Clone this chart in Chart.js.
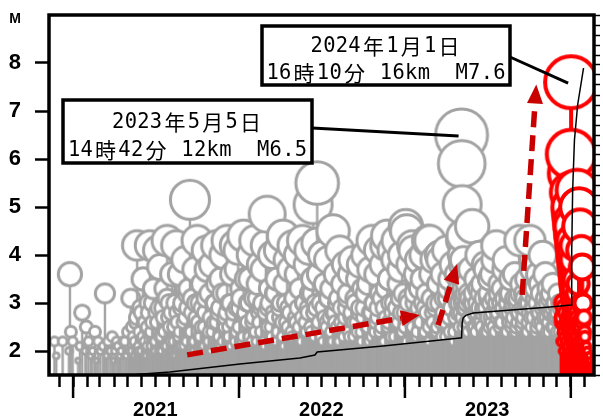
<!DOCTYPE html>
<html lang="ja">
<head>
<meta charset="utf-8">
<title>M-T図</title>
<script src="https://cdn.jsdelivr.net/npm/chart.js@4/dist/chart.umd.min.js"></script>
<style>
html, body { margin: 0; padding: 0; background: #fff; }
#wrap { width: 603px; height: 419px; }
</style>
</head>
<body>
<div id="wrap"><canvas id="mtChart"></canvas></div>
<script>
/* M-T diagram: swarm (grey), recent events (red), cumulative count (black) */

// [day counted from 2020-11-01, magnitude]
var swarmQuakes = [
  [20,2.2],[24,1.9],[38,2.2],[52,2.0],[54,3.6],[56,2.4],[60,2.2],[72,1.8],[76,2.1],[81,2.8],[88,2.0],[90,2.5],
  [95,2.2],[100,1.9],[104,2.0],[109,2.4],[113,1.8],[116,2.2],[121,2.0],[127,2.1],[131,3.2],[135,1.9],[138,2.2],
  [143,2.0],[147,2.3],[150,1.8],[153,2.0],[157,2.2],[160,2.1],[164,1.9],[167,2.0],[171,2.2],[175,2.2],[178,1.9],
  [182,2.4],[185,2.0],
  [188,3.1],[190,2.0],[193,2.3],[196,1.9],[199,2.6],[202,4.2],[204,2.1],[207,2.4],
  [210,2.0],[212,2.8],[215,3.5],[218,2.2],[221,1.9],[224,2.5],[227,3.0],[230,4.2],
  [232,2.1],[235,2.6],[238,3.3],[241,2.0],[244,2.8],[247,4.1],[250,2.3],[252,3.75],
  [255,2.0],[258,2.9],[261,2.4],[263,3.3],[266,2.1],[268,4.3],[271,2.7],[273,3.0],
  [276,2.2],[279,3.6],[282,2.5],[285,1.9],[288,4.2],[290,2.8],[293,2.3],[296,3.6],
  [298,2.1],[301,3.0],[304,2.6],[307,3.9],[310,2.2],[313,2.9],[316,3.3],[318,5.15],
  [320,2.4],[323,3.1],[326,2.0],[329,3.7],[331,2.7],[334,4.3],[337,2.3],[339,3.0],
  [342,2.5],[345,3.4],[348,2.1],[351,2.8],[354,4.1],[356,3.7],[359,2.4],[361,3.2],
  [364,2.0],[367,3.8],[370,2.6],[373,3.0],[376,4.2],[378,3.4],[381,2.3],[383,2.9],
  [386,3.5],[389,2.2],[392,4.0],[395,2.7],[398,3.2],[400,4.3],[403,2.5],[405,3.0],
  [408,2.1],[411,3.6],[414,2.8],[417,4.2],[420,2.4],[422,3.7],[424,4.1],[427,2.9],
  [430,3.3],[433,2.2],[436,4.4],[439,2.7],[442,3.5],[445,3.0],[448,2.3],[450,3.5],
  [452,4.0],[455,2.6],[458,3.1],[461,4.3],[464,2.2],[467,3.4],[470,2.8],[472,3.8],
  [474,2.4],[477,3.0],[479,3.7],[482,2.1],[485,4.2],[488,4.85],[490,2.9],[493,3.3],
  [496,2.5],[499,4.0],[502,2.8],[505,3.2],[508,2.2],[510,3.5],[513,4.1],[515,2.7],
  [518,3.0],[521,2.3],[523,4.4],[526,3.4],[529,2.6],[532,3.9],[535,2.9],[538,3.7],
  [541,2.4],[544,4.2],[547,3.1],[550,2.7],[553,3.6],[556,4.0],[558,2.5],[560,3.3],
  [563,2.2],[566,4.3],[569,3.0],[572,2.6],[575,3.8],[578,2.9],[580,4.1],[582,3.2],
  [585,2.4],[588,3.5],[589,5.05],[591,2.8],[594,3.0],[597,4.25],[598,5.5],[600,2.5],[602,3.6],
  [606,2.3],[609,4.0],[612,2.9],[615,3.4],[618,2.6],[621,3.9],[623,3.1],[626,2.7],
  [628,3.3],[631,2.2],[633,4.5],[636,2.8],[639,3.6],[642,2.5],[645,3.1],[648,4.1],
  [650,2.6],[653,3.4],[656,2.3],[659,3.8],[662,2.9],[665,3.2],[667,2.4],[670,3.6],
  [672,2.7],[675,3.9],[678,2.3],[681,3.1],[684,2.6],[687,3.5],[690,2.8],[692,3.8],
  [695,2.4],[698,3.3],[701,2.9],[704,4.0],[707,2.5],[710,3.4],[712,2.2],[714,3.7],
  [717,2.8],[719,4.3],[722,3.0],[725,2.4],[728,3.6],[731,2.7],[733,4.1],[736,3.2],
  [739,2.5],[742,3.8],[745,2.9],[748,4.2],[750,3.3],[752,4.4],[755,2.6],[757,3.5],
  [760,2.3],[763,4.1],[766,3.0],[769,3.9],[771,2.7],[774,4.3],[777,3.4],[780,3.7],
  [782,2.8],[785,4.0],[788,3.2],[791,2.5],[793,4.6],[795,4.5],[798,3.1],[801,3.8],
  [804,2.6],[807,4.2],[809,4.1],[812,3.0],[815,3.6],[818,2.4],[821,3.9],[823,3.3],
  [826,2.7],[829,3.5],[832,4.0],[835,2.9],[838,3.2],[841,4.3],[844,2.5],[846,4.3],
  [849,3.6],[852,2.8],[855,3.9],[858,3.0],[861,2.4],[864,3.4],[866,4.0],[868,3.9],
  [871,2.6],[874,3.6],[877,3.1],[880,2.3],[883,4.1],[886,3.3],[888,2.7],[890,3.5],
  [893,2.9],[896,3.8],[899,2.4],[902,3.2],[905,3.6],[908,2.8],[910,3.0],[912,3.4],
  [915.6,6.5],[915.8,4.3],[916,5.9],[916.3,4.0],[916.6,3.8],[917,5.05],[917.5,3.5],[918,4.4],
  [919,3.3],[920,3.9],[921,3.1],[923,3.6],[925,2.9],[927,3.4],[929,2.6],
  [931,3.2],[933,2.7],[936,3.7],[939,4.6],[941,3.0],[944,2.5],[947,3.5],[950,2.8],[953,3.3],[955,4.0],
  [958,2.6],[961,3.4],[964,2.9],[967,3.8],[970,3.7],[972,2.4],[975,3.1],[977,3.5],
  [980,2.7],[983,3.6],[986,2.5],[989,3.9],[992,4.2],[994,3.0],[997,2.8],[999,3.4],
  [1002,2.6],[1005,3.3],[1008,2.9],[1011,3.7],[1014,3.9],[1016,2.4],[1019,3.2],[1021,2.8],
  [1024,3.5],[1027,2.6],[1030,3.0],[1033,3.6],[1036,2.5],[1039,3.1],[1041,2.8],[1044,4.3],
  [1047,3.4],[1050,2.6],[1053,3.2],[1056,2.9],[1059,3.5],[1061,2.4],[1064,3.0],[1066,4.3],
  [1069,2.7],[1072,3.7],[1075,2.9],[1078,3.3],[1081,2.5],[1084,3.6],[1086,2.8],[1088,3.4],
  [1091,2.6],[1094,4.0],[1097,3.0],[1100,3.6],[1103,2.7],[1106,3.3],[1108,2.4],[1110,3.1],
  [1113,2.8],[1116,3.4],[1119,2.5],[1122,3.0],[1125,2.7],[1128,3.2],[1131,2.4],[1134,2.9]
];

// smaller swarm events between the ones above
var swarmMinor = [
  [191.5,2.5],[196,2.2],[200.5,2.7],[205,2.0],[209.5,2.9],[214,2.3],[218.5,2.6],[223,2.1],[227.5,2.8],[232,2.4],
  [236.5,3.0],[241,2.2],[245.5,2.6],[250,2.9],[254.5,2.3],[259,2.7],[263.5,2.1],[268,3.1],[272.5,2.5],[277,2.8],
  [281.5,2.2],[286,3.0],[290.5,2.6],[295,2.4],[299.5,2.9],[304,2.1],[308.5,2.7],[313,3.2],[317.5,2.4],[322,2.8],
  [326.5,2.2],[331,3.0],[335.5,2.6],[340,2.3],[344.5,2.9],[349,2.5],[353.5,3.1],[358,2.2],[362.5,2.7],[367,2.4],
  [371.5,3.0],[376,2.6],[380.5,2.8],[385,2.1],[389.5,3.2],[394,2.5],[398.5,2.8],[403,2.3],[407.5,3.0],[412,2.6],
  [416.5,2.2],[421,2.9],[425.5,2.5],[430,3.1],[434.5,2.3],[439,2.8],[443.5,2.6],[448,3.0],[452.5,2.2],[457,2.7],
  [461.5,2.4],[466,3.1],[470.5,2.6],[475,2.9],[479.5,2.2],[484,2.8],[488.5,2.5],[493,3.0],[497.5,2.3],[502,2.7],
  [506.5,3.2],[511,2.4],[515.5,2.9],[520,2.6],[524.5,2.1],[529,3.0],[533.5,2.5],[538,2.8],[542.5,2.3],[547,3.1],
  [551.5,2.6],[556,2.9],[560.5,2.2],[565,2.7],[569.5,3.0],[574,2.4],[578.5,2.8],[583,2.5],[587.5,3.2],[592,2.3],
  [596.5,2.9],[601,2.6],[605.5,3.0],[610,2.2],[614.5,2.7],[619,2.5],[623.5,3.1],[628,2.4],[632.5,2.8],[637,2.6],
  [641.5,3.0],[646,2.2],[650.5,2.9],[655,2.5],[659.5,2.7],[664,3.1],[668.5,2.3],[673,2.8],[677.5,2.6],[682,3.0],
  [686.5,2.4],[691,2.9],[695.5,2.2],[700,2.7],[704.5,3.2],[709,2.5],[713.5,2.8],[718,2.3],[722.5,3.0],[727,2.6],
  [731.5,2.9],[736,2.4],[740.5,3.1],[745,2.2],[749.5,2.7],[754,2.5],[758.5,3.0],[763,2.8],[767.5,2.3],[772,2.9],
  [776.5,2.6],[781,3.1],[785.5,2.4],[790,2.8],[794.5,2.2],[799,3.0],[803.5,2.7],[808,2.5],[812.5,3.2],[817,2.3],
  [821.5,2.9],[826,2.6],[830.5,3.0],[835,2.4],[839.5,2.8],[844,2.2],[848.5,3.1],[853,2.6],[857.5,2.9],[862,2.5],
  [866.5,3.0],[871,2.3],[875.5,2.8],[880,2.6],[884.5,3.1],[889,2.4],[893.5,2.9],[898,2.2],[902.5,2.7],[907,3.0],
  [911.5,2.5],[914,2.8],[916.8,3.2],[917.8,3.0],[918.5,2.7],[919.5,3.1],[920.5,2.5],[922,2.9],[924,3.2],[926,2.6],
  [928,3.0],[930,2.4],[932.5,3.1],[935,2.7],[937.5,3.0],[940,2.5],[942.5,3.2],[945,2.8],[947.5,2.4],[950,3.0],
  [952.5,2.6],[955,2.9],[957.5,3.2],[960,2.5],[962.5,2.8],[965,3.1],[967.5,2.4],[970,2.9],[972.5,2.7],[975,3.2],
  [977.5,2.5],[980,3.0],[982.5,2.6],[985,2.8],[987.5,3.1],[990,2.4],[992.5,2.9],[995,2.7],[997.5,3.2],[1000,2.5],
  [1002.5,3.0],[1005,2.6],[1007.5,2.9],[1010,3.1],[1012.5,2.4],[1015,2.8],[1017.5,3.0],[1020,2.6],[1022.5,3.2],
  [1025,2.5],[1027.5,2.9],[1030,2.7],[1032.5,3.1],[1035,2.4],[1037.5,3.0],[1040,2.6],[1042.5,2.8],[1045,3.2],
  [1047.5,2.5],[1050,2.9],[1052.5,2.7],[1055,3.1],[1057.5,2.4],[1060,3.0],[1062.5,2.6],[1065,2.8],[1067.5,3.2],
  [1070,2.5],[1072.5,2.9],[1075,2.7],[1077.5,3.1],[1080,2.4],[1082.5,3.0],[1085,2.6],[1087.5,2.8],[1090,3.2],
  [1092.5,2.5],[1095,2.9],[1097.5,2.7],[1100,3.1],[1102.5,2.4],[1105,3.0],[1107.5,2.6],[1110,2.8],[1112.5,3.2],
  [1115,2.5],[1117.5,2.9],[1120,2.7],[1122.5,3.0],[1125,2.4],[1127.5,2.8],[1130,2.6],[1132.5,3.0],[1135,2.3]
];

// red: events from mid-December 2023 on
var recentQuakes = [
  [1136,2.2],[1137,2.6],[1137.5,2.7],[1139,2.0],[1140,3.0],[1141,2.4],[1142.5,2.9],[1143,2.3],[1144,1.9],
  [1145,2.2],[1146,2.8],[1147.5,2.6],[1148,2.1],[1149,2.5],[1150,2.4],[1151,2.0],[1152,2.7],[1152.5,2.7],
  [1153.5,2.2],[1154.5,2.3],[1155,2.4],[1156,1.9],
  [1156.67,7.6],[1156.68,5.7],[1156.69,6.1],[1156.70,4.8],[1156.71,5.3],[1156.72,4.4],[1156.73,4.9],
  [1156.74,3.9],[1156.75,4.6],[1156.76,4.2],[1156.78,5.0],[1156.80,3.6],[1156.82,4.5],[1156.84,4.0],
  [1156.86,3.4],[1156.88,4.7],[1156.90,3.8],[1156.92,4.3],[1156.95,3.2],[1156.98,4.1],[1157.0,3.7],
  [1157.1,4.4],[1157.2,3.0],[1157.3,3.9],[1157.4,4.6],[1157.5,3.5],[1157.6,2.8],[1157.7,4.2],
  [1157.8,3.3],[1157.9,3.8],[1158.0,2.6],[1158.2,4.0],[1158.4,3.1],[1158.6,3.6],[1158.8,2.4],
  [1159.0,4.3],[1159.2,2.9],[1159.4,3.4],[1159.6,2.2],[1159.8,3.7],[1160.0,3.0],[1160.3,2.5],
  [1160.6,4.1],[1161.0,2.7],[1161.4,3.3],[1161.8,2.0],[1162.2,3.6],[1162.6,2.4],[1163.0,3.9],
  [1163.5,2.8],[1164.0,3.1],[1164.5,2.2],[1165.0,3.5],[1165.5,2.6],[1166.0,4.2],[1167.0,2.9],
  [1168.0,3.2],[1169.0,2.3],[1170.0,5.35],[1171.0,2.7],[1172.0,3.4],[1173.0,2.0],[1174.0,5.0],
  [1175.0,2.5],[1176.0,4.6],[1177.0,3.0],[1178.0,2.2],[1179.0,4.1],[1180.0,2.7],[1181.0,3.75],
  [1182.0,1.9],[1183.0,3.0],[1184.0,2.4],[1185.0,2.7],[1186.0,2.0],[1187.0,2.3],[1189.0,1.8],
  [1190.0,2.1],[1192.0,2.0],[1194.0,1.7],[1196.0,1.9],[1198.0,1.6]
];

var aftershockMinor = [
  [1156.77,3.1],[1156.79,2.7],[1156.81,3.3],[1156.83,2.9],[1156.85,3.5],[1156.87,2.5],[1156.89,3.0],
  [1156.91,2.3],[1156.93,3.4],[1156.96,2.8],[1156.99,3.2],[1157.05,2.6],[1157.15,3.1],[1157.25,2.4],
  [1157.35,2.9],[1157.45,3.3],[1157.55,2.2],[1157.65,3.0],[1157.75,2.7],[1157.85,3.4],[1157.95,2.5],
  [1158.1,3.2],[1158.3,2.3],[1158.5,2.9],[1158.7,3.1],[1158.9,2.6],[1159.1,3.3],[1159.3,2.4],
  [1159.5,2.8],[1159.7,3.0],[1159.9,2.1],[1160.15,2.7],[1160.45,3.2],[1160.8,2.3],[1161.2,2.9],
  [1161.6,2.5],[1162.0,3.1],[1162.4,2.2],[1162.8,2.8],[1163.25,2.5],[1163.75,3.0],[1164.25,2.3],
  [1164.75,2.7],[1165.25,2.1],[1165.75,2.9],[1166.5,2.4],[1167.5,2.6],[1168.5,2.0],[1169.5,2.8],
  [1170.5,2.2],[1171.5,2.5],[1172.5,1.9],[1173.5,2.6],[1174.5,2.1],[1175.5,2.4],[1176.5,1.8],
  [1177.5,2.5],[1178.5,2.0],[1179.5,2.3],[1180.5,1.9],[1181.5,2.2],[1182.5,2.6],[1183.5,1.8],
  [1184.5,2.1],[1185.5,1.9],[1186.5,2.4],[1188,1.7],[1191,1.9],[1193,1.8],[1195,1.6],[1197,1.8],[1199,1.7]
];

// cumulative number of events [day, count]
var cumulative = [
  [8,0],[200,20],[274,150],[428,550],[560,850],[593,1000],[598,1150],[743,1450],[912,1850],
  [915.6,1860],[917,2600],[919,2850],[925,2980],[941,3100],[1110,3400],[1156.6,3500],
  [1158,6200],[1160,9200],[1164,11750],[1171,13500],[1184,15350]
];

var magTicks = [2, 3, 4, 5, 6, 7, 8];
var yearLabels = ['2021', '2022', '2023'];
var trendArrows = [[312, 1.92, 824, 2.75], [864, 2.54, 906, 3.81], [1049, 3.17, 1080, 7.55]];
var callouts = [
  { lines: ['2023年5月5日', '14時42分 12km  M6.5'], box: [63, 100, 312, 163], from: [312, 128], day: 915.6, mag: 6.5 },
  { lines: ['2024年1月1日', '16時10分 16km  M7.6'], box: [262, 26, 510, 85], from: [510, 57], day: 1156.67, mag: 7.6 }
];

var epoch = Date.UTC(2020, 10, 1);
function dayOf(y, m) { return (Date.UTC(y, m, 1) - epoch) / 864e5; }
var monthTicks = [];
for (var yy = 2020; yy <= 2024; yy++) {
  for (var mm = 0; mm < 12; mm++) {
    var d = dayOf(yy, mm);
    if (d >= 8 && d <= 1207) monthTicks.push(d);
  }
}
var yearStarts = [2021, 2022, 2023, 2024].map(function(y) { return dayOf(y, 0); });
var labelAt = {};
yearLabels.forEach(function(l) { labelAt[dayOf(+l, 6)] = l; });

function byTime(list) {
  return list.slice().sort(function(a, b) { return a[0] - b[0]; })
             .map(function(q) { return { x: q[0], y: q[1] }; });
}

function ringRadius(m) { return Math.max(2, Math.min(26, 4.5 + 5.1 * (m - 2.2))); }

// each quake: stem down to the axis + white-filled ring, drawn as one point image
var stampCache = {};
function quakeStamp(color, stemW, ringW) {
  return function(c) {
    if (!c.raw) return 'circle';
    var ys = c.chart.scales.y;
    var r = ringRadius(c.raw.y);
    var L = ys.getPixelForValue(ys.min) - ys.getPixelForValue(c.raw.y);
    var key = color + '|' + r.toFixed(1) + '|' + Math.round(L);
    if (stampCache[key]) return stampCache[key];
    var half = Math.ceil(Math.max(L + 2, r + ringW)) + 1;
    var w = Math.ceil(2 * (r + ringW)) + 2;
    var cv = document.createElement('canvas');
    cv.width = w; cv.height = 2 * half;
    var g = cv.getContext('2d');
    g.strokeStyle = color;
    g.lineWidth = stemW;
    g.beginPath(); g.moveTo(w / 2, half); g.lineTo(w / 2, half + L + 2); g.stroke();
    g.beginPath(); g.arc(w / 2, half, r, 0, Math.PI * 2);
    g.fillStyle = '#fff'; g.fill();
    g.lineWidth = ringW; g.stroke();
    stampCache[key] = cv;
    return cv;
  };
}

function monoText(ctx, str, cx, cy, u) {
  var chars = Array.from(str);
  var units = chars.reduce(function(s, ch) { return s + (ch.charCodeAt(0) > 0x2000 ? 2 : 1); }, 0);
  var x = cx - units * u / 2;
  ctx.textBaseline = 'middle';
  ctx.textAlign = 'center';
  chars.forEach(function(ch) {
    var wide = ch.charCodeAt(0) > 0x2000;
    var cw = wide ? 2 * u : u;
    ctx.save();
    ctx.translate(x + cw / 2, cy);
    if (wide) {
      ctx.font = '21px "Noto Sans CJK JP"';
    } else {
      ctx.font = '22px "DejaVu Sans Mono"';
      ctx.scale(0.93, 1);
    }
    ctx.fillText(ch, 0, 1);
    ctx.restore();
    x += cw;
  });
}

function dashedArrow(ctx, x1, y1, x2, y2) {
  var ang = Math.atan2(y2 - y1, x2 - x1), head = 19, hw = 8;
  var bx = x2 - head * Math.cos(ang), by = y2 - head * Math.sin(ang);
  ctx.setLineDash([16, 8]);
  ctx.beginPath(); ctx.moveTo(x1, y1); ctx.lineTo(bx, by); ctx.stroke();
  ctx.setLineDash([]);
  ctx.beginPath();
  ctx.moveTo(x2, y2);
  ctx.lineTo(bx + hw * Math.sin(ang), by - hw * Math.cos(ang));
  ctx.lineTo(bx - hw * Math.sin(ang), by + hw * Math.cos(ang));
  ctx.closePath(); ctx.fill();
}

var overlay = {
  id: 'overlay',
  afterDatasetsDraw: function(chart) {
    var ctx = chart.ctx, a = chart.chartArea, xs = chart.scales.x, ys = chart.scales.y;
    ctx.save();
    // arrows
    ctx.strokeStyle = '#c80000'; ctx.fillStyle = '#c80000'; ctx.lineWidth = 5.5;
    trendArrows.forEach(function(t) {
      dashedArrow(ctx, xs.getPixelForValue(t[0]), ys.getPixelForValue(t[1]),
                       xs.getPixelForValue(t[2]), ys.getPixelForValue(t[3]));
    });
    // callouts
    callouts.forEach(function(c) {
      var b = c.box;
      ctx.strokeStyle = '#000'; ctx.lineWidth = 3;
      ctx.beginPath();
      ctx.moveTo(c.from[0], c.from[1]);
      ctx.lineTo(xs.getPixelForValue(c.day) - 3, ys.getPixelForValue(c.mag) + 1);
      ctx.stroke();
      ctx.fillStyle = '#fff';
      ctx.fillRect(b[0], b[1], b[2] - b[0], b[3] - b[1]);
      ctx.lineWidth = 3.5;
      ctx.strokeRect(b[0], b[1], b[2] - b[0], b[3] - b[1]);
      ctx.fillStyle = '#000';
      var mid = (b[0] + b[2]) / 2, h = b[3] - b[1];
      monoText(ctx, c.lines[0], mid, b[1] + h * 0.33, 12.6);
      monoText(ctx, c.lines[1], mid, b[1] + h * 0.78, 12.6);
    });
    // frame
    ctx.strokeStyle = '#000'; ctx.lineWidth = 3.5;
    ctx.strokeRect(a.left, a.top, a.right - a.left, a.bottom - a.top);
    // long year ticks
    ctx.lineWidth = 2.5;
    yearStarts.forEach(function(dd) {
      var x = xs.getPixelForValue(dd);
      ctx.beginPath(); ctx.moveTo(x, a.bottom); ctx.lineTo(x, a.bottom + 23); ctx.stroke();
    });
    // axis name
    ctx.fillStyle = '#000';
    ctx.font = 'bold 14px "Liberation Sans"';
    ctx.textAlign = 'center'; ctx.textBaseline = 'middle';
    ctx.fillText('M', 15, 19);
    ctx.restore();
  }
};

new Chart(document.getElementById('mtChart').getContext('2d'), {
  type: 'scatter',
  data: {
    datasets: [
      { type: 'line', label: 'count', yAxisID: 'y2', order: 0,
        data: cumulative.map(function(p) { return { x: p[0], y: p[1] }; }),
        borderColor: '#000', borderWidth: 1.5, pointRadius: 0, tension: 0, fill: false },
      { label: 'recent', order: 1, clip: 0,
        data: byTime(recentQuakes.concat(aftershockMinor)),
        pointStyle: quakeStamp('#ff0000', 4, 4),
        pointRadius: function(c) { return c.raw ? ringRadius(c.raw.y) : 3; } },
      { label: 'swarm', order: 2, clip: 0,
        data: byTime(swarmQuakes.concat(swarmMinor)),
        pointStyle: quakeStamp('#a3a3a3', 2.4, 3),
        pointRadius: function(c) { return c.raw ? ringRadius(c.raw.y) : 3; } }
    ]
  },
  options: {
    responsive: true, maintainAspectRatio: false, animation: false, events: [],
    layout: { autoPadding: false, padding: { top: 15, left: 0, right: 0, bottom: 0 } },
    plugins: { legend: { display: false }, tooltip: { enabled: false } },
    scales: {
      x: {
        type: 'linear', min: 8, max: 1207,
        afterBuildTicks: function(s) { s.ticks = monthTicks.map(function(v) { return { value: v }; }); },
        afterFit: function(s) { s.height = 44; s.paddingLeft = 0; s.paddingRight = 0; },
        grid: { drawOnChartArea: false, tickLength: 12, tickWidth: 2.5, tickColor: '#000' },
        border: { display: false },
        ticks: { autoSkip: false, maxRotation: 0, padding: 11, color: '#000',
          font: { family: 'Liberation Sans', size: 20, weight: 'bold' },
          callback: function(v) { return labelAt[v] || ''; } }
      },
      y: {
        type: 'linear', position: 'left', min: 1.5, max: 9,
        afterBuildTicks: function(s) { s.ticks = magTicks.map(function(v) { return { value: v }; }); },
        afterFit: function(s) { s.width = 49; s.paddingTop = 0; s.paddingBottom = 0; },
        grid: { drawOnChartArea: false, tickLength: 14, tickWidth: 2.5, tickColor: '#000' },
        border: { display: false },
        ticks: { padding: 14, color: '#000', font: { family: 'Liberation Sans', size: 22, weight: 'bold' } }
      },
      y2: {
        type: 'linear', position: 'right', min: 0, max: 18000,
        afterFit: function(s) { s.width = 9; s.paddingTop = 0; s.paddingBottom = 0; },
        grid: { drawOnChartArea: false, tickLength: 6, tickWidth: 1.5, tickColor: '#000' },
        border: { display: false },
        ticks: { stepSize: 500, maxTicksLimit: 100, autoSkip: false, padding: 0, callback: function() { return ''; } }
      }
    }
  },
  plugins: [overlay]
});
</script>
</body>
</html>
